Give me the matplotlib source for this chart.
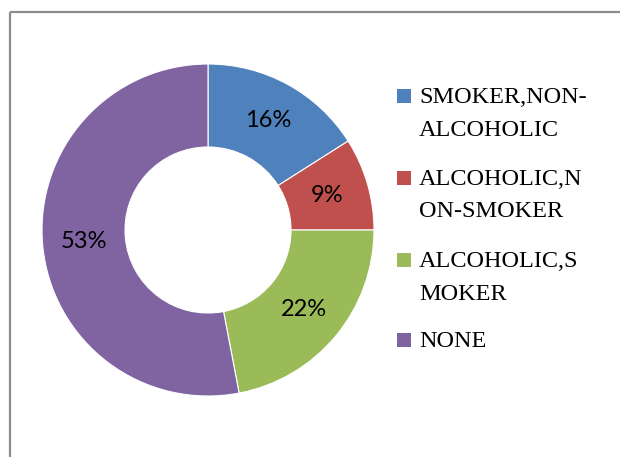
import matplotlib.pyplot as plt
from matplotlib.lines import Line2D
from matplotlib.patches import Rectangle

# habit groups and their share of respondents (%)
categories = ["SMOKER,NON-\nALCOHOLIC", "ALCOHOLIC,N\nON-SMOKER", "ALCOHOLIC,S\nMOKER", "NONE"]
shares = [16, 9, 22, 53]
colors = ["#4F81BD", "#C0504D", "#9BBB59", "#8064A2"]

W, H = 620, 457
fig = plt.figure(figsize=(W / 100, H / 100), dpi=100)
fig.patch.set_facecolor("white")

# donut: centre (208, 230) px, outer radius 166 px
cx, cy, r = 208, 230, 166
ax = fig.add_axes([(cx - r) / W, (H - cy - r) / H, 2 * r / W, 2 * r / H])
wedges, texts, autotexts = ax.pie(
    shares,
    colors=colors,
    startangle=90,
    counterclock=False,
    radius=1.0,
    autopct="%.0f",
    pctdistance=0.75,
    wedgeprops=dict(width=0.5, edgecolor="white", linewidth=0.8),
    textprops=dict(fontsize=17, family=["Lato", "DejaVu Sans"], color="black"),
)
for t, v in zip(autotexts, shares):
    t.set_text(f"{v}%")
ax.set_xlim(-1, 1)
ax.set_ylim(-1, 1)
ax.set_aspect("equal")
ax.axis("off")

# legend drawn by hand, two lines per entry
legend_font = dict(family=["Liberation Serif", "DejaVu Serif"], fontsize=17.5, color="black")
first_baselines = [103, 185, 267, 347]
for label, color, base in zip(categories, colors, first_baselines):
    fig.patches.append(
        Rectangle((397 / W, 1 - (base) / H), 14 / W, 14 / H,
                  transform=fig.transFigure, facecolor=color, edgecolor="none")
    )
    for i, line in enumerate(label.split("\n")):
        fig.text(419 / W, 1 - (base + 32.5 * i) / H, line, ha="left", va="baseline", **legend_font)

# frame of the chart area (cut off at right and bottom)
frame = dict(color="#8c8c8c", lw=1.6, transform=fig.transFigure, solid_capstyle="butt")
fig.lines.append(Line2D([9.5 / W, 1.0], [1 - 12 / H, 1 - 12 / H], **frame))
fig.lines.append(Line2D([10 / W, 10 / W], [1 - 12 / H, 0.0], **frame))

fig.savefig("out.png", dpi=100)
